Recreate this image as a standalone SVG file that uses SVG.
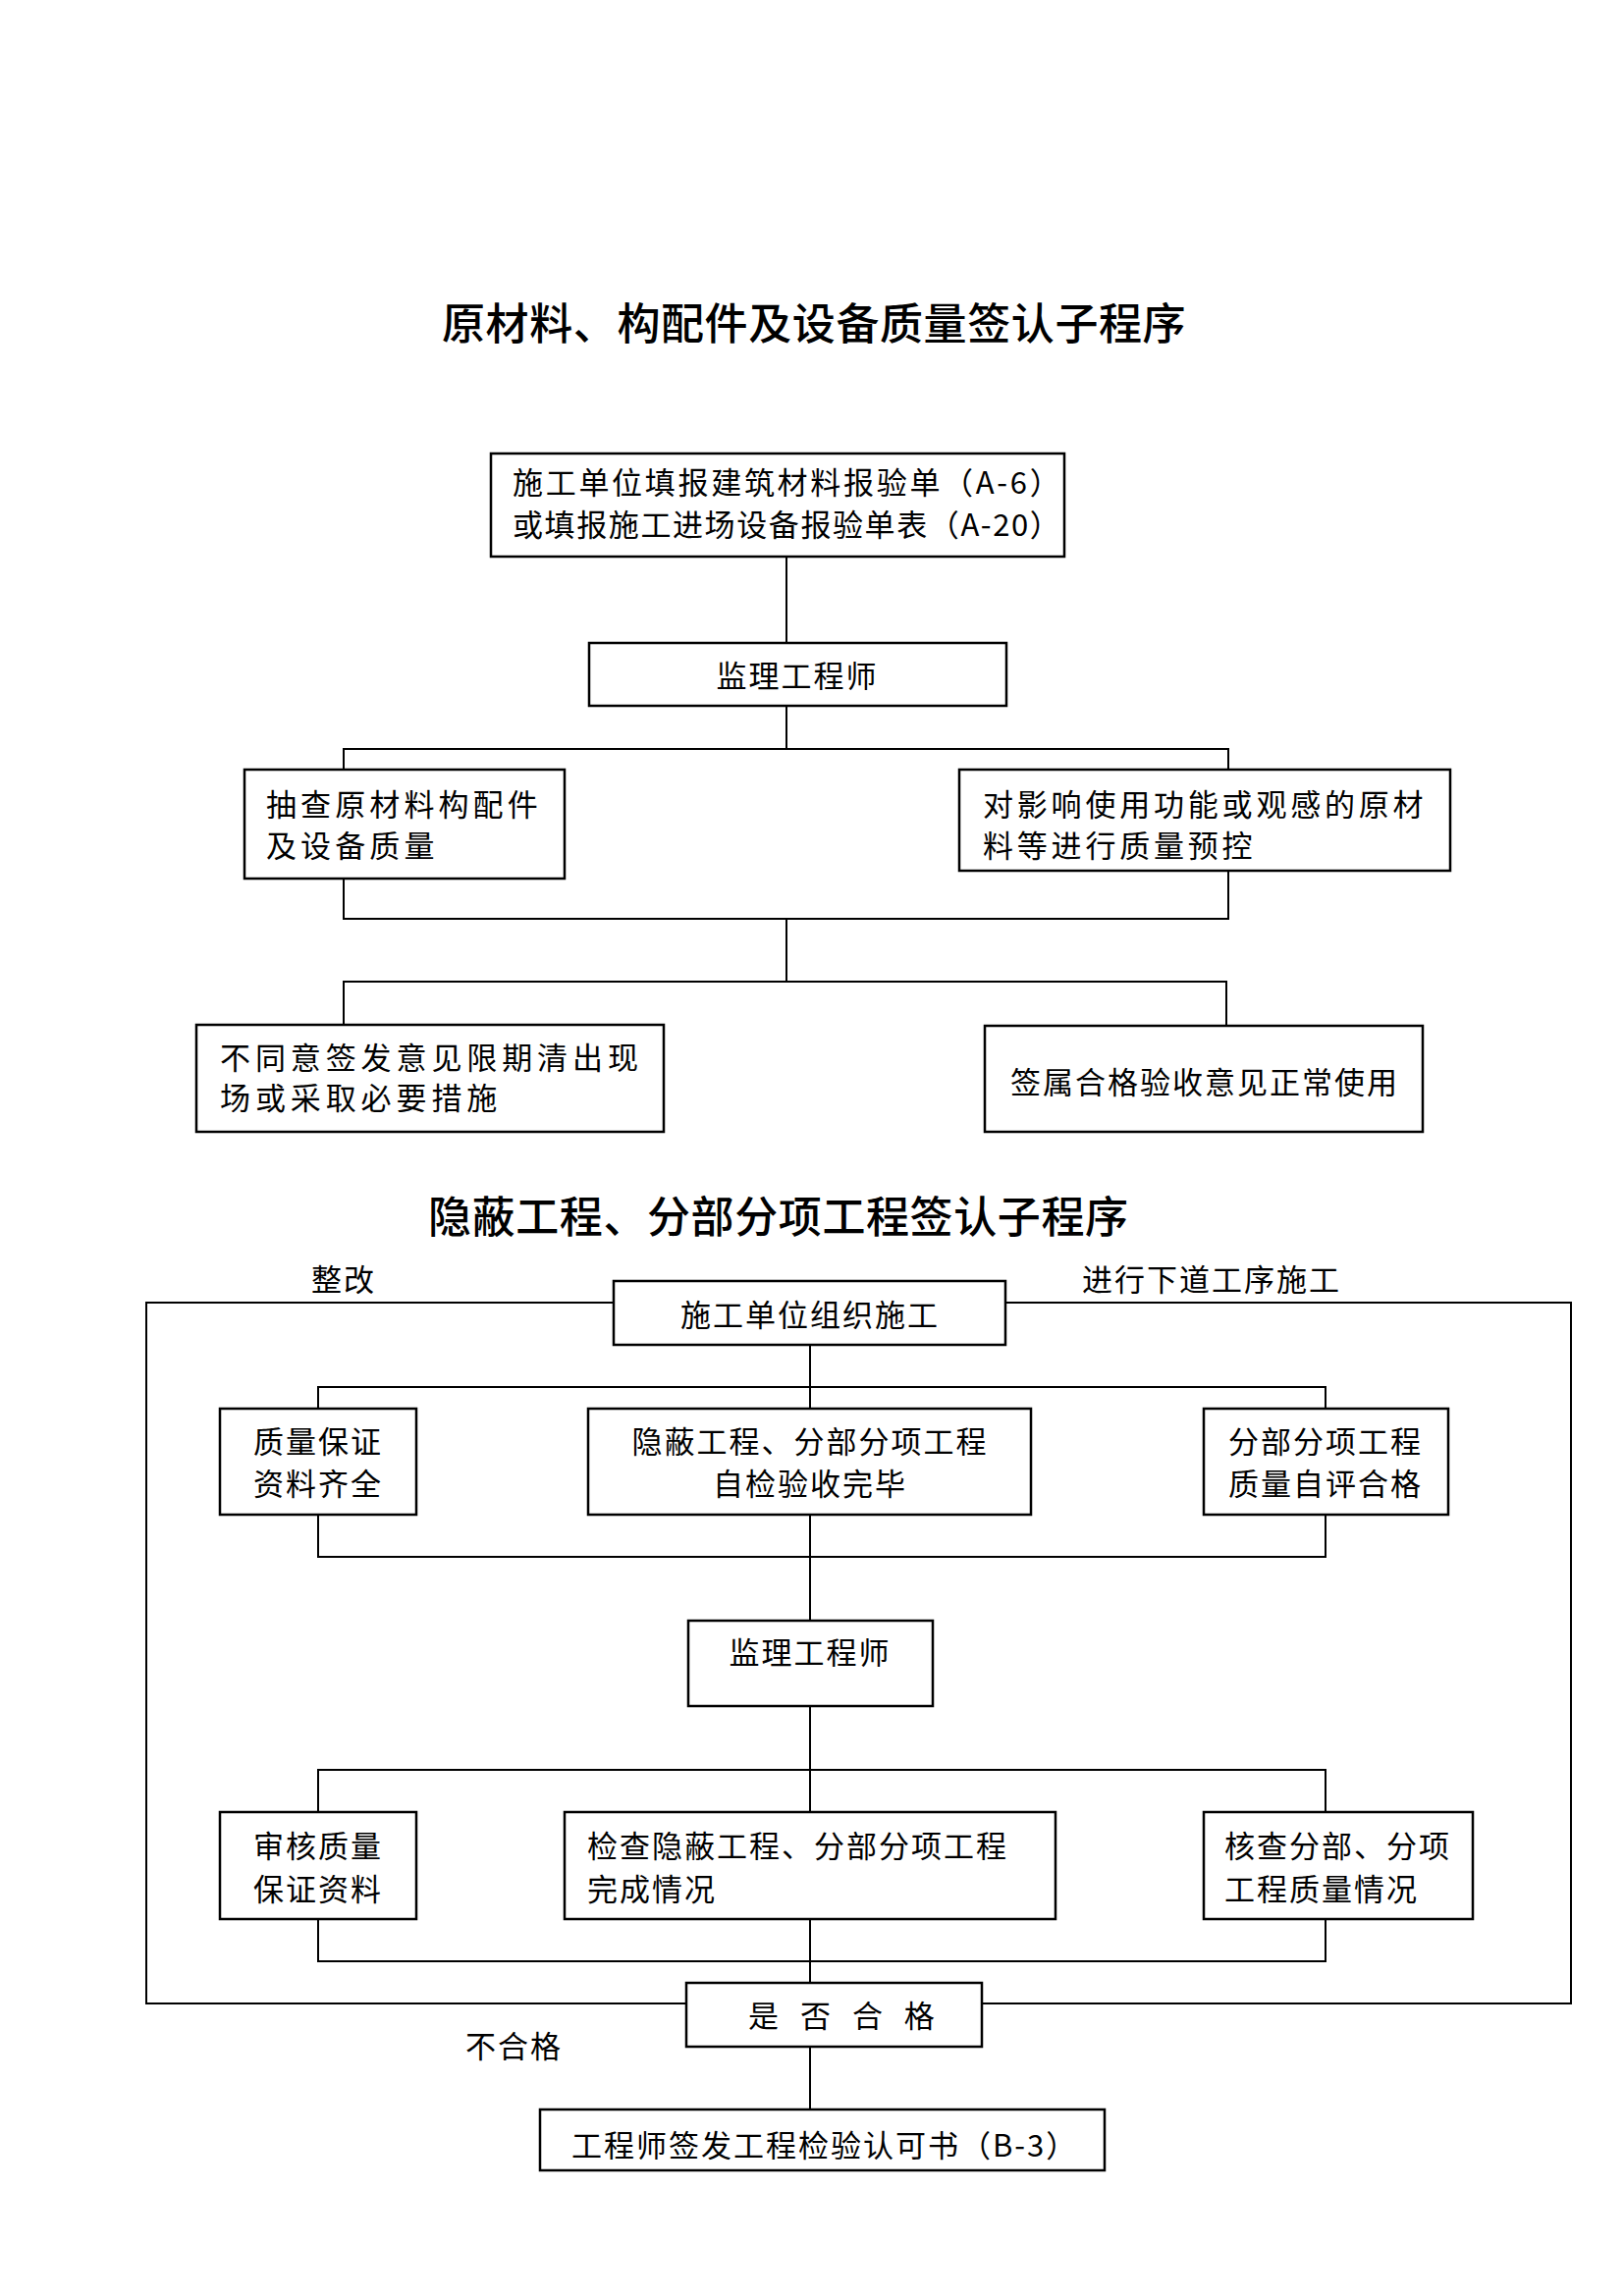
<svg xmlns="http://www.w3.org/2000/svg" width="1654" height="2339" viewBox="0 0 1654 2339">
<style>
  text { font-family: "Noto Sans CJK SC", "Liberation Sans", sans-serif; fill: #000; }
  .title { font-size: 44px; font-weight: 500; letter-spacing: 0.6px; }
  .t { font-size: 31px; letter-spacing: 2px; }
  .mid { text-anchor: middle; }
  .box { fill: #fff; stroke: #000; stroke-width: 2.5; }
  .ln { fill: none; stroke: #000; stroke-width: 2; }
</style>
<rect width="1654" height="2339" fill="#fff"/>

<!-- Section 1 -->
<text class="title" x="450" y="346">原材料、构配件及设备质量签认子程序</text>

<g id="connectors1">
  <path class="ln" d="M801 567 V655"/>
  <path class="ln" d="M801 719 V763"/>
  <path class="ln" d="M350 784 V763 H1251 V784"/>
  <path class="ln" d="M350 895 V936 H1251 V887"/>
  <path class="ln" d="M801 936 V1000"/>
  <path class="ln" d="M350 1044 V1000 H1249 V1045"/>
</g>

<g id="n1">
  <rect class="box" x="500" y="462" width="584" height="105"/>
  <text class="t" x="522" y="503" style="letter-spacing:2.7px">施工单位填报建筑材料报验单（A-6）</text>
  <text class="t" x="522" y="546" style="letter-spacing:1.6px">或填报施工进场设备报验单表（A-20）</text>
</g>
<g id="n2">
  <rect class="box" x="600" y="655" width="425" height="64"/>
  <text class="t mid" x="812" y="700">监理工程师</text>
</g>
<g id="n3">
  <rect class="box" x="249" y="784" width="326" height="111"/>
  <text class="t" x="271" y="831" style="letter-spacing:4.1px">抽查原材料构配件</text>
  <text class="t" x="271" y="873" style="letter-spacing:4.1px">及设备质量</text>
</g>
<g id="n4">
  <rect class="box" x="977" y="784" width="500" height="103"/>
  <text class="t" x="1001" y="831" style="letter-spacing:3.8px">对影响使用功能或观感的原材</text>
  <text class="t" x="1001" y="873" style="letter-spacing:3.8px">料等进行质量预控</text>
</g>
<g id="n5">
  <rect class="box" x="200" y="1044" width="476" height="109"/>
  <text class="t" x="224" y="1089" style="letter-spacing:4.9px">不同意签发意见限期清出现</text>
  <text class="t" x="224" y="1130" style="letter-spacing:4.9px">场或采取必要措施</text>
</g>
<g id="n6">
  <rect class="box" x="1003" y="1045" width="446" height="108"/>
  <text class="t" x="1029" y="1114">签属合格验收意见正常使用</text>
</g>

<!-- Section 2 -->
<text class="title" x="436" y="1256">隐蔽工程、分部分项工程签认子程序</text>

<g id="connectors2">
  <path class="ln" d="M625 1327 H149 V2041 H699"/>
  <path class="ln" d="M1024 1327 H1600 V2041 H1000"/>
  <path class="ln" d="M825 1370 V1435"/>
  <path class="ln" d="M324 1435 V1413 H1350 V1435"/>
  <path class="ln" d="M324 1543 V1586 H1350 V1543"/>
  <path class="ln" d="M825 1543 V1651"/>
  <path class="ln" d="M825 1738 V1846"/>
  <path class="ln" d="M324 1846 V1803 H1350 V1846"/>
  <path class="ln" d="M324 1955 V1998 H1350 V1955"/>
  <path class="ln" d="M825 1955 V2020"/>
  <path class="ln" d="M825 2085 V2149"/>
</g>

<text class="t mid" x="350" y="1315">整改</text>
<text class="t" x="1102" y="1315">进行下道工序施工</text>
<text class="t" x="474" y="2096">不合格</text>

<g id="m1">
  <rect class="box" x="625" y="1305" width="399" height="65"/>
  <text class="t mid" x="825" y="1351">施工单位组织施工</text>
</g>
<g id="m2">
  <rect class="box" x="224" y="1435" width="200" height="108"/>
  <text class="t mid" x="324" y="1480">质量保证</text>
  <text class="t mid" x="324" y="1523">资料齐全</text>
</g>
<g id="m3">
  <rect class="box" x="599" y="1435" width="451" height="108"/>
  <text class="t mid" x="825" y="1480">隐蔽工程、分部分项工程</text>
  <text class="t mid" x="825" y="1523">自检验收完毕</text>
</g>
<g id="m4">
  <rect class="box" x="1226" y="1435" width="249" height="108"/>
  <text class="t mid" x="1350" y="1480">分部分项工程</text>
  <text class="t mid" x="1350" y="1523">质量自评合格</text>
</g>
<g id="m5">
  <rect class="box" x="701" y="1651" width="249" height="87"/>
  <text class="t mid" x="825" y="1695">监理工程师</text>
</g>
<g id="m6">
  <rect class="box" x="224" y="1846" width="200" height="109"/>
  <text class="t mid" x="324" y="1892">审核质量</text>
  <text class="t mid" x="324" y="1936">保证资料</text>
</g>
<g id="m7">
  <rect class="box" x="575" y="1846" width="500" height="109"/>
  <text class="t" x="598" y="1892">检查隐蔽工程、分部分项工程</text>
  <text class="t" x="598" y="1936">完成情况</text>
</g>
<g id="m8">
  <rect class="box" x="1226" y="1846" width="274" height="109"/>
  <text class="t" x="1247" y="1892">核查分部、分项</text>
  <text class="t" x="1247" y="1936">工程质量情况</text>
</g>
<g id="m9">
  <rect class="box" x="699" y="2020" width="301" height="65"/>
  <text class="t" x="762" y="2065" style="letter-spacing:7.5px">是 否 合 格</text>
</g>
<g id="m10">
  <rect class="box" x="550" y="2149" width="575" height="62"/>
  <text class="t" x="582" y="2197">工程师签发工程检验认可书（B-3）</text>
</g>
</svg>
